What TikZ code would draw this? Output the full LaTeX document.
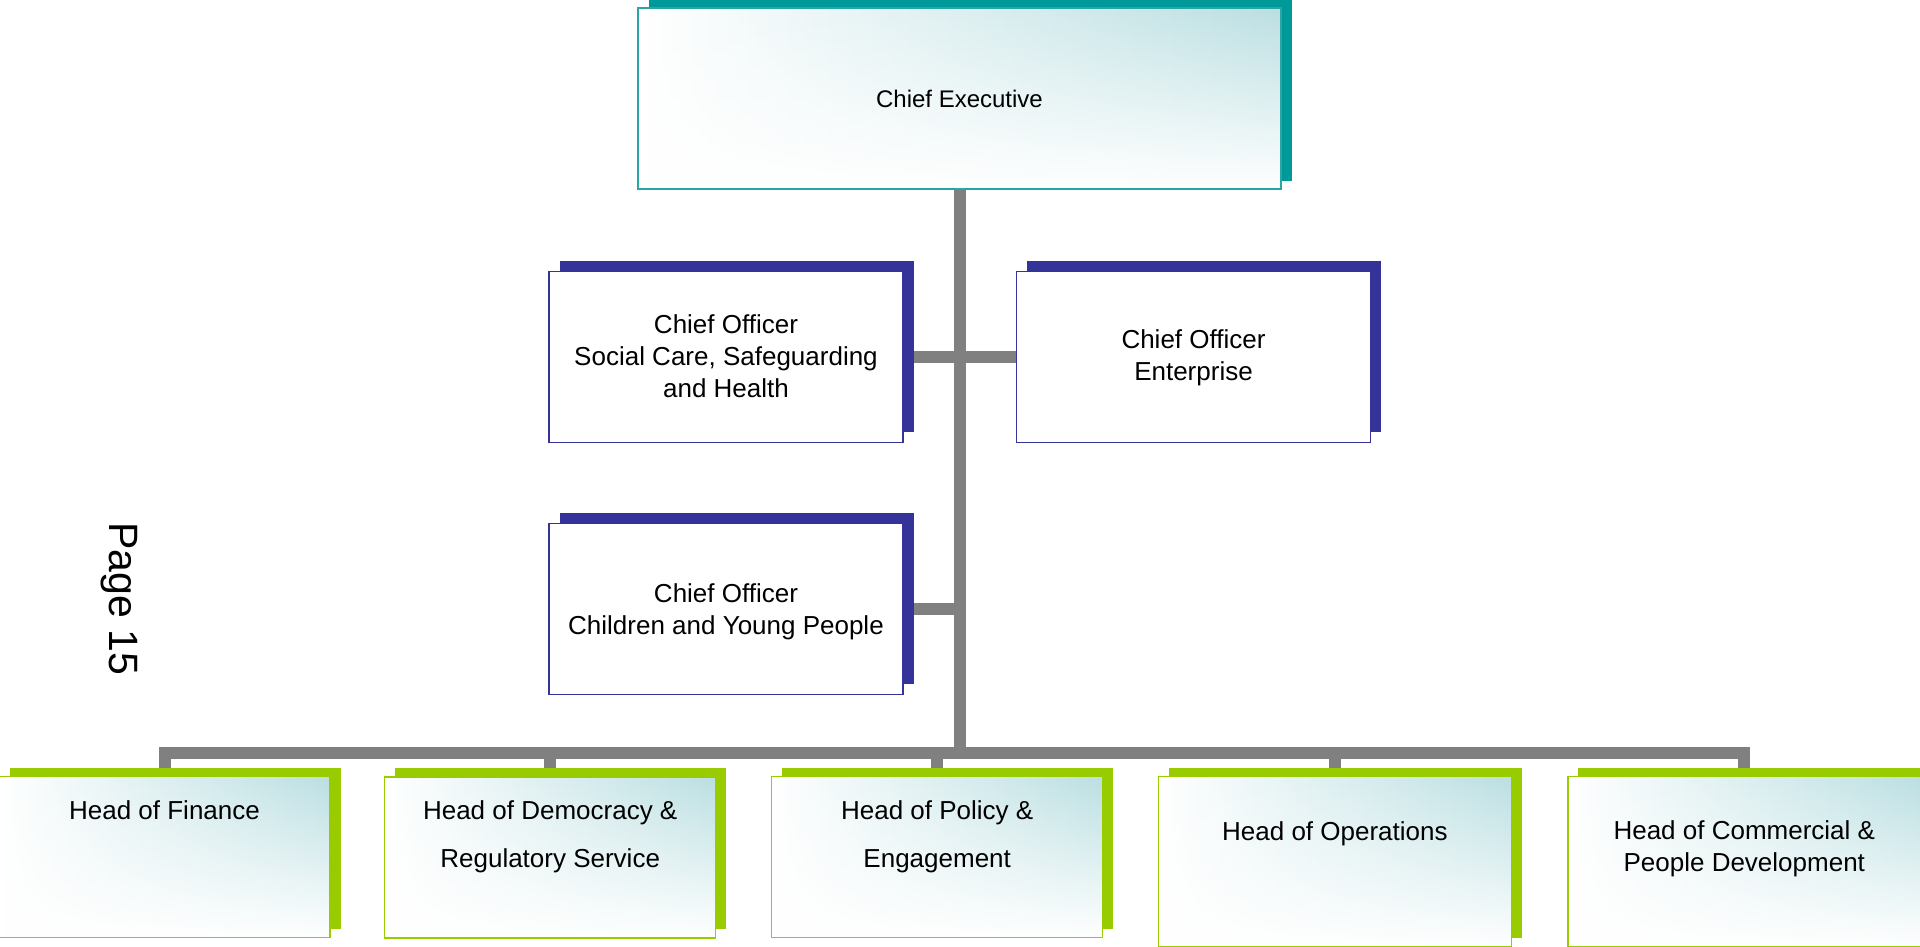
\documentclass[tikz,border=0pt]{standalone}
\usepackage{fontspec}
\setmainfont{Liberation Sans}
\usetikzlibrary{shadows,fadings}
\definecolor{ceshadow}{RGB}{0,153,153}
\definecolor{ceborder}{RGB}{40,165,165}
\definecolor{coblue}{RGB}{51,51,153}
\definecolor{hdgreen}{RGB}{153,204,0}
\definecolor{gradc}{RGB}{187,223,226}
\definecolor{conngray}{RGB}{128,128,128}
\tikzfading[name=botwhite, top color=transparent!100, middle color=transparent!72, bottom color=transparent!0]
\pgfdeclarelayer{bg}
\pgfsetlayers{bg,main}
\tikzset{
  conn/.style={draw=conngray, line width=12pt},
  gradfill/.style={preaction={shade, left color=white, right color=gradc},
    preaction={fill=white, path fading=botwhite}},
  cebox/.style={general shadow={fill=ceshadow, shadow xshift=11pt, shadow yshift=8pt},
    gradfill, draw=ceborder, line width=1.5pt,
    minimum width=643pt, minimum height=181pt, inner sep=0pt},
  cobox/.style={draw=coblue, line width=1.5pt, fill=white,
    general shadow={fill=coblue, shadow xshift=10.5pt, shadow yshift=11pt},
    minimum width=354pt, minimum height=171pt, inner sep=0pt},
  hdbox/.style={general shadow={fill=hdgreen, shadow xshift=10.5pt, shadow yshift=9pt},
    gradfill, draw=hdgreen, line width=1.5pt,
    minimum width=331pt, minimum height=161pt, inner sep=0pt},
  hdboxbig/.style={hdbox, minimum width=353pt, minimum height=170pt},
  lbl/.style={align=center, inner sep=0pt, font=\fontsize{26}{32}\selectfont},
  lblwide/.style={align=center, inner sep=0pt, font=\fontsize{26}{48}\selectfont},
  lblce/.style={align=center, inner sep=0pt, font=\fontsize{24}{29}\selectfont},
}
\begin{document}
\begin{tikzpicture}[x=1pt, y=-1pt]
\useasboundingbox (0,0) rectangle (1920,947);
% boxes
\node[cebox] (ce) at (959.5,98.5) {};
\node[cobox] (co1) at (726,357) {};
\node[cobox] (co2) at (1193.5,357) {};
\node[cobox] (co3) at (726,609) {};
\node[hdbox] (fin) at (164.5,857) {};
\node[hdbox] (dem) at (550.2,857.3) {};
\node[hdbox] (pol) at (937.2,857.2) {};
\node[hdboxbig] (ops) at (1334.9,861.7) {};
\node[hdboxbig] (com) at (1744.3,861.7) {};
% labels
\node[lblce] (ce-t) at (959.5,102.2) {\strut Chief Executive};
\node[lbl] (co1-t) at (726,358.6) {\strut Chief Officer\\\strut Social Care, Safeguarding\\\strut and Health};
\node[lbl] (co2-t) at (1193.5,358.3) {\strut Chief Officer\\\strut Enterprise};
\node[lbl] (co3-t) at (726,611.9) {\strut Chief Officer\\\strut Children and Young People};
\node[lbl] (fin-t) at (164.5,813) {\strut Head of Finance};
\node[lblwide] (dem-t) at (550.2,833.5) {\strut Head of Democracy \&\\\strut Regulatory Service};
\node[lblwide] (pol-t) at (937.2,833.5) {\strut Head of Policy \&\\\strut Engagement};
\node[lbl] (ops-t) at (1334.9,834) {\strut Head of Operations};
\node[lbl] (com-t) at (1744.3,849.5) {\strut Head of Commercial \&\\\strut People Development};
\node[font=\fontsize{41}{48}\selectfont, rotate=-90, anchor=base, inner sep=0pt] (page) at (109,599) {Page 15};
% connectors
\coordinate (bus) at (959.5,753);
\begin{pgfonlayer}{bg}
\draw[conn] (ce.south) -- (bus);
\draw[conn] (co1.east) -- (co2.west);
\draw[conn] (co3.east) -- (co3.east -| ce.south);
\draw[conn] (fin.north) -- (fin.north |- bus) -- (com.north |- bus) -- (com.north);
\draw[conn] (dem.north) -- (dem.north |- bus);
\draw[conn] (pol.north) -- (pol.north |- bus);
\draw[conn] (ops.north) -- (ops.north |- bus);
\end{pgfonlayer}
\end{tikzpicture}
\end{document}
